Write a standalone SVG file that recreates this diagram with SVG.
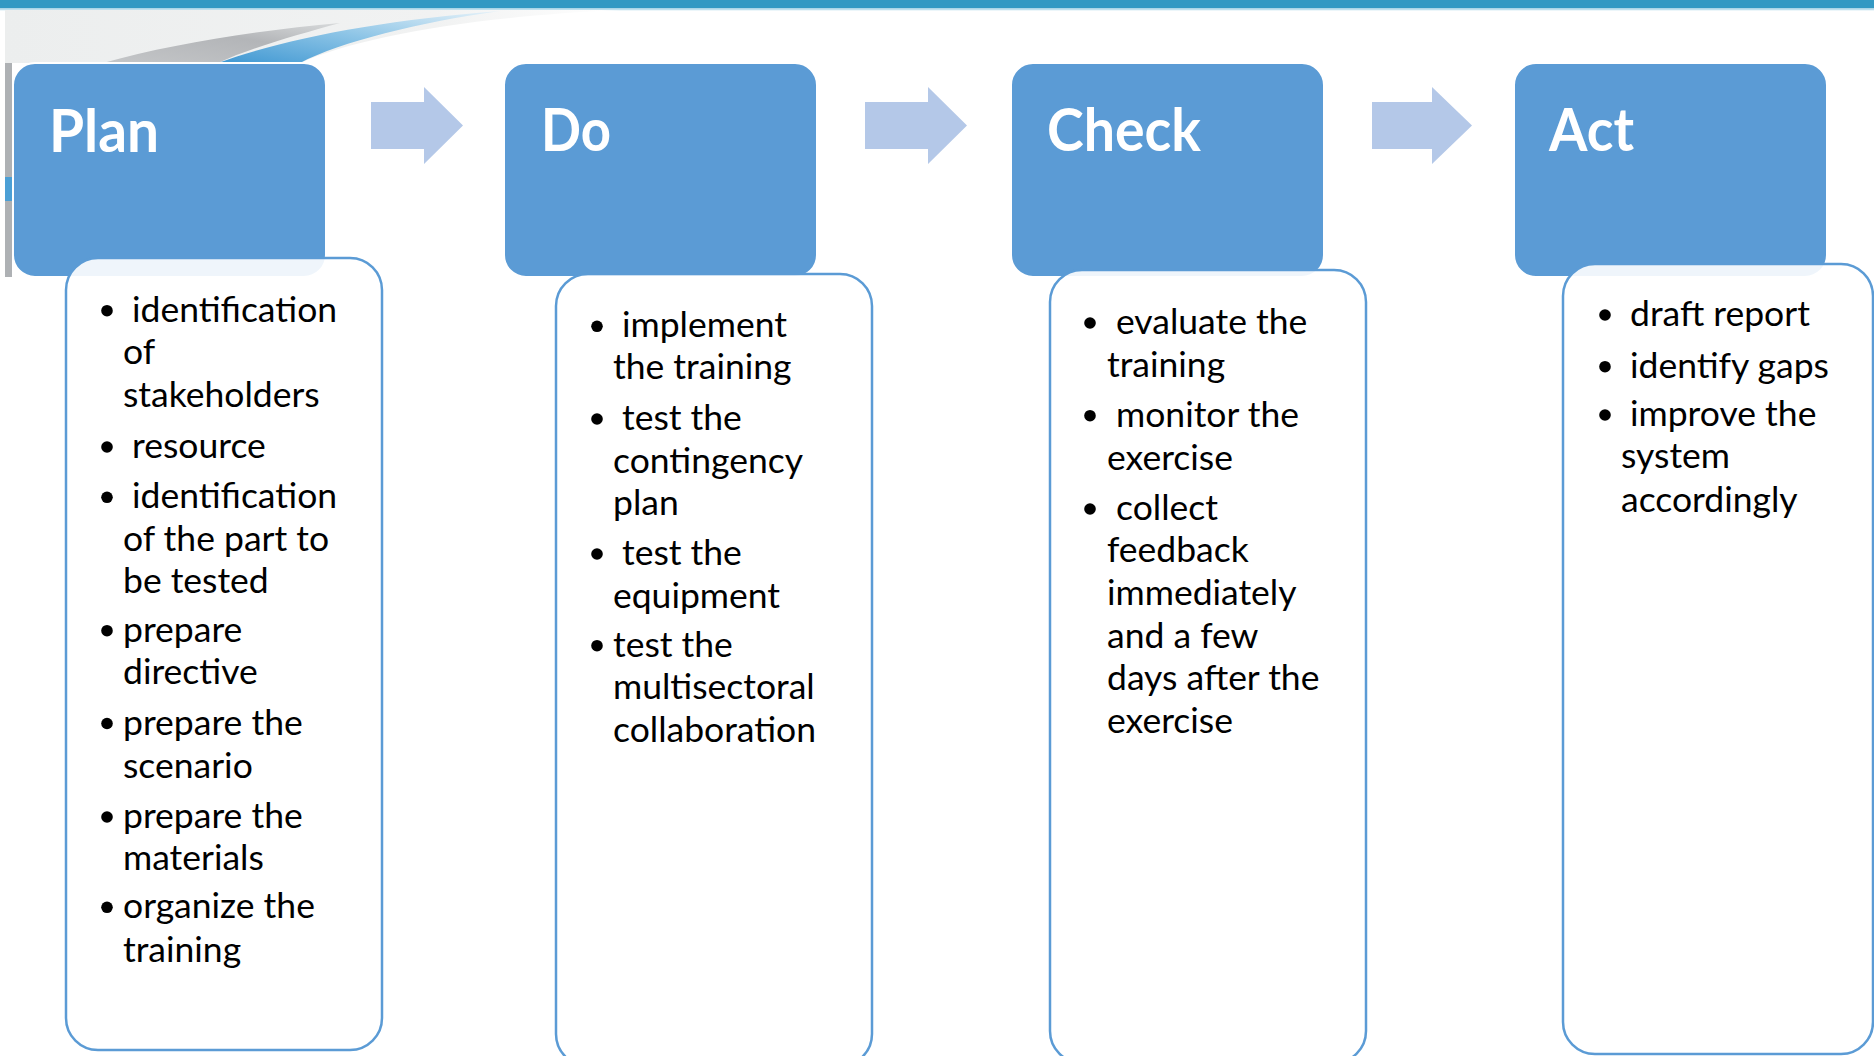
<svg xmlns="http://www.w3.org/2000/svg" width="1874" height="1056" viewBox="0 0 1874 1056">
<defs>
<style>
.hdr{fill:#5b9bd5;stroke:#ffffff;stroke-width:2}
.htxt{font-family:Lato,"Liberation Sans",sans-serif;font-weight:700;font-size:60px;fill:#ffffff}
.body{fill:#ffffff;fill-opacity:0.9;stroke:#5b9bd5;stroke-width:2.5}
.btxt{font-family:Lato,"Liberation Sans",sans-serif;font-size:35.5px;fill:#000000}
.bul{fill:#000000}
.arrow{fill:#b4c8e8}
</style>
<linearGradient id="gLight" x1="0" y1="0" x2="1" y2="0">
<stop offset="0" stop-color="#eceeee"/>
<stop offset="0.7" stop-color="#f1f2f2"/>
<stop offset="1" stop-color="#ffffff"/>
</linearGradient>
<linearGradient id="gGray" x1="0" y1="1" x2="1" y2="0">
<stop offset="0" stop-color="#c4c6c8"/>
<stop offset="0.6" stop-color="#b3b5b8"/>
<stop offset="1" stop-color="#d8dadb"/>
</linearGradient>
<linearGradient id="gBlue" x1="0" y1="1" x2="1" y2="0">
<stop offset="0" stop-color="#3f97d2"/>
<stop offset="0.5" stop-color="#8cc4e6"/>
<stop offset="1" stop-color="#e6f2f9"/>
</linearGradient>
</defs>
<g id="background">
<rect x="0" y="0" width="1874" height="1056" fill="#ffffff"/>
<rect x="0" y="0" width="1874" height="8.5" fill="#3399c3"/>
<rect x="0" y="8.5" width="1874" height="1.8" fill="#bfe0ee"/>
<path d="M5,10 H620 C480,16 360,36 300,63 H5 Z" fill="url(#gLight)"/>
<path d="M103,63 C170,44 260,30 340,23 C300,34 250,48 218,63 Z" fill="url(#gGray)"/>
<path d="M218,63 C280,40 380,20 500,11 C420,22 340,42 300,63 Z" fill="url(#gBlue)"/>
<rect x="5" y="63" width="7" height="214" fill="#aeb1b4"/>
<rect x="5" y="177" width="7" height="24" fill="#4b9fd5"/>
</g>
<g id="connectors">
<polygon class="arrow" points="371,102 424,102 424,87 463,125.5 424,164 424,149 371,149"/>
<polygon class="arrow" points="865,102 928,102 928,87 967,125.5 928,164 928,149 865,149"/>
<polygon class="arrow" points="1372,102 1432,102 1432,87 1472,125.5 1432,164 1432,149 1372,149"/>
</g>
<g id="node-plan">
<rect class="hdr" x="13" y="63" width="313" height="214" rx="22"/>
<text class="htxt" x="49" y="151.5" textLength="110" lengthAdjust="spacingAndGlyphs">Plan</text>
<rect class="body" x="66" y="258" width="316" height="792" rx="32"/>
<circle class="bul" cx="107" cy="310.7" r="5.8"/>
<circle class="bul" cx="107" cy="447" r="5.8"/>
<circle class="bul" cx="107" cy="497.3" r="5.8"/>
<circle class="bul" cx="107" cy="630.7" r="5.8"/>
<circle class="bul" cx="107" cy="723.5" r="5.8"/>
<circle class="bul" cx="107" cy="817" r="5.8"/>
<circle class="bul" cx="107" cy="907.3" r="5.8"/>
<text class="btxt">
<tspan x="132" y="321.7">identification</tspan>
<tspan x="123" y="363.5">of</tspan>
<tspan x="123" y="406.5">stakeholders</tspan>
<tspan x="132" y="458">resource</tspan>
<tspan x="132" y="508.3">identification</tspan>
<tspan x="123" y="550.5">of the part to</tspan>
<tspan x="123" y="593">be tested</tspan>
<tspan x="123" y="641.7">prepare</tspan>
<tspan x="123" y="683.5">directive</tspan>
<tspan x="123" y="734.5">prepare the</tspan>
<tspan x="123" y="778">scenario</tspan>
<tspan x="123" y="828">prepare the</tspan>
<tspan x="123" y="870">materials</tspan>
<tspan x="123" y="918.3">organize the</tspan>
<tspan x="123" y="961.5">training</tspan>
</text>
</g>
<g id="node-do">
<rect class="hdr" x="504" y="63" width="313" height="214" rx="22"/>
<text class="htxt" x="541" y="151" textLength="70" lengthAdjust="spacingAndGlyphs">Do</text>
<rect class="body" x="556" y="274" width="316" height="792" rx="32"/>
<circle class="bul" cx="597" cy="326.3" r="5.8"/>
<circle class="bul" cx="597" cy="419" r="5.8"/>
<circle class="bul" cx="597" cy="554" r="5.8"/>
<circle class="bul" cx="597" cy="645.7" r="5.8"/>
<text class="btxt">
<tspan x="622" y="337.3">implement</tspan>
<tspan x="613" y="379">the training</tspan>
<tspan x="622" y="430">test the</tspan>
<tspan x="613" y="473">contingency</tspan>
<tspan x="613" y="515">plan</tspan>
<tspan x="622" y="565">test the</tspan>
<tspan x="613" y="608">equipment</tspan>
<tspan x="613" y="656.7">test the</tspan>
<tspan x="613" y="699.3">multisectoral</tspan>
<tspan x="613" y="741.7">collaboration</tspan>
</text>
</g>
<g id="node-check">
<rect class="hdr" x="1011" y="63" width="313" height="214" rx="22"/>
<text class="htxt" x="1047" y="151" textLength="154" lengthAdjust="spacingAndGlyphs">Check</text>
<rect class="body" x="1050" y="270" width="316" height="793" rx="32"/>
<circle class="bul" cx="1090" cy="323" r="5.8"/>
<circle class="bul" cx="1090" cy="415.7" r="5.8"/>
<circle class="bul" cx="1090" cy="509" r="5.8"/>
<text class="btxt">
<tspan x="1116" y="334">evaluate the</tspan>
<tspan x="1107" y="376.7">training</tspan>
<tspan x="1116" y="426.7">monitor the</tspan>
<tspan x="1107" y="470">exercise</tspan>
<tspan x="1116" y="520">collect</tspan>
<tspan x="1107" y="561.7">feedback</tspan>
<tspan x="1107" y="605">immediately</tspan>
<tspan x="1107" y="648.3">and a few</tspan>
<tspan x="1107" y="690">days after the</tspan>
<tspan x="1107" y="733.3">exercise</tspan>
</text>
</g>
<g id="node-act">
<rect class="hdr" x="1514" y="63" width="313" height="214" rx="22"/>
<text class="htxt" x="1549" y="151" textLength="85" lengthAdjust="spacingAndGlyphs">Act</text>
<rect class="body" x="1563" y="264" width="310" height="790" rx="32"/>
<circle class="bul" cx="1605" cy="315" r="5.8"/>
<circle class="bul" cx="1605" cy="366.7" r="5.8"/>
<circle class="bul" cx="1605" cy="415" r="5.8"/>
<text class="btxt">
<tspan x="1630" y="326">draft report</tspan>
<tspan x="1630" y="377.7">identify gaps</tspan>
<tspan x="1630" y="426">improve the</tspan>
<tspan x="1621" y="468.3">system</tspan>
<tspan x="1621" y="511.7">accordingly</tspan>
</text>
</g>
</svg>
